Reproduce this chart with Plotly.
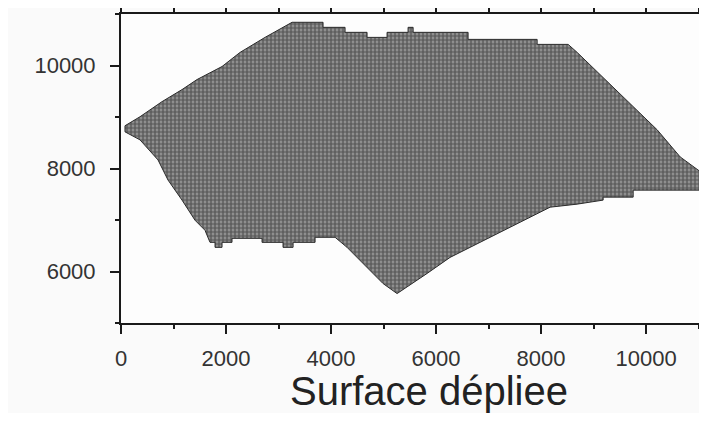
import plotly.graph_objects as go

# outline of the unfolded surface (clockwise from the left tip)
surf_x = [76, 362, 781, 1162, 1448, 1924, 2267, 2743, 3258,
          3848, 3848, 4267, 4267, 4686, 4686, 5067, 5067, 5467, 5467, 5563, 5563,
          6610, 6610, 7925, 7925, 8515,
          8687, 9087, 9563, 10211, 10649, 11068, 11300,
          11300, 11030, 9754, 9754, 9182, 9182, 8687, 8172,
          7791, 7544, 7163, 6782, 6267, 5829, 5258,
          4991, 4686, 4305, 4077, 3696, 3696, 3277, 3277, 3086, 3086,
          2686, 2686, 2114, 2114, 1924, 1924, 1791, 1791, 1695,
          1600, 1410, 1162, 895, 705, 362, 76, 76]
surf_y = [8830, 9005, 9298, 9532, 9727, 9980, 10254, 10546, 10839,
          10839, 10741, 10741, 10644, 10644, 10546, 10546, 10644, 10644, 10741, 10741, 10644,
          10644, 10507, 10507, 10410, 10410,
          10254, 9863, 9395, 8751, 8225, 7912, 7873,
          7639, 7580, 7580, 7444, 7444, 7386, 7308, 7249,
          7054, 6937, 6742, 6547, 6274, 5962, 5571,
          5766, 6078, 6469, 6664, 6664, 6566, 6566, 6469, 6469, 6566,
          6566, 6644, 6644, 6566, 6566, 6469, 6469, 6566, 6566,
          6800, 6995, 7386, 7776, 8166, 8556, 8712, 8830]

x_range = [0, 11160]
y_range = [5000, 11000]

fig = go.Figure()
fig.add_trace(go.Scatter(
    x=surf_x, y=surf_y, mode="lines", fill="toself",
    line=dict(color="#2a2a2a", width=1),
    fillcolor="#737373",
    fillpattern=dict(shape=".", bgcolor="#a0a0a0", fgcolor="#1f1f1f", size=4, solidity=0.7),
    hoverinfo="skip", showlegend=False,
))

axis_font = dict(family="Liberation Sans, Arial, sans-serif", size=22, color="#333333")

fig.update_xaxes(
    range=x_range, dtick=2000, tick0=0, tickformat="d",
    showgrid=False, zeroline=False, automargin=False,
    showline=True, linecolor="#1a1a1a", linewidth=2, mirror="ticks",
    ticks="outside", ticklen=9, tickwidth=1.5, tickcolor="#1a1a1a",
    minor=dict(dtick=1000, ticks="outside", ticklen=4, tickwidth=1.5, tickcolor="#1a1a1a"),
    tickfont=axis_font, ticklabelstandoff=6,
)
fig.update_yaxes(
    range=y_range, dtick=2000, tick0=0, tickformat="d",
    showgrid=False, zeroline=False, automargin=False,
    showline=True, linecolor="#1a1a1a", linewidth=2,
    ticks="outside", ticklen=9, tickwidth=1.5, tickcolor="#1a1a1a",
    minor=dict(dtick=1000, ticks="outside", ticklen=4, tickwidth=1.5, tickcolor="#1a1a1a"),
    tickfont=axis_font, ticklabelstandoff=10,
)

fig.add_annotation(
    text="Surface dépliee", xref="paper", yref="paper", x=0.525, y=0,
    xanchor="center", yanchor="top", yshift=-44, showarrow=False,
    font=dict(family="Liberation Sans, Arial, sans-serif", size=40, color="#222222"),
)

# the page body adds an 8 px margin on each side, so the figure is shrunk to fit
fig.update_layout(
    width=699, height=405,
    margin=dict(l=113, r=0, t=6, b=90),
    paper_bgcolor="#fafafa", plot_bgcolor="#fdfdfd",
)

fig.write_html("out.html")
